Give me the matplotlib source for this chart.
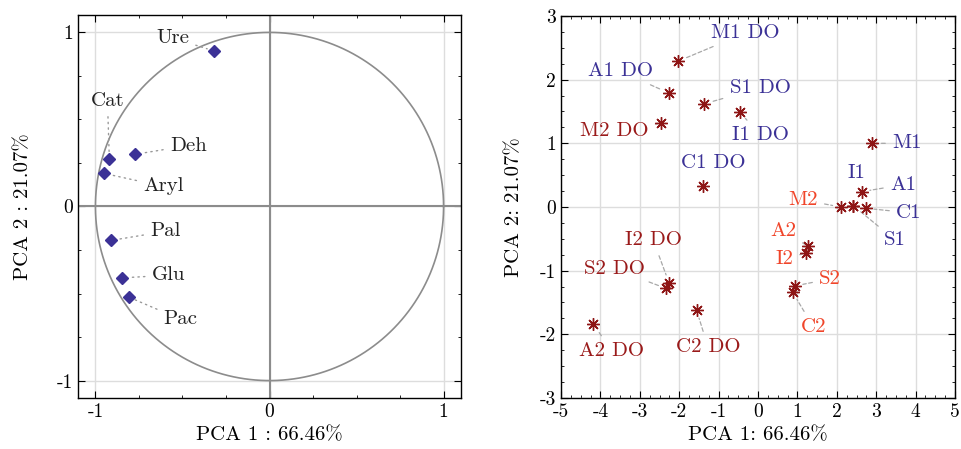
import numpy as np
import matplotlib
matplotlib.use('Agg')
import matplotlib.pyplot as plt
from matplotlib.ticker import MultipleLocator

plt.rcParams['font.family'] = ['cmr10', 'DejaVu Serif']
plt.rcParams['axes.unicode_minus'] = False
plt.rcParams['mathtext.fontset'] = 'cm'

# loadings (left panel)
var_names = ['Ure', 'Cat', 'Deh', 'Aryl', 'Pal', 'Glu', 'Pac']
var_pc1 = [-0.32, -0.92, -0.77, -0.95, -0.91, -0.85, -0.81]
var_pc2 = [0.894, 0.27, 0.30, 0.19, -0.195, -0.41, -0.52]
var_label_x = [-0.557, -0.931, -0.466, -0.609, -0.598, -0.58, -0.511]
var_label_y = [0.968, 0.607, 0.35, 0.115, -0.143, -0.395, -0.648]

# scores (right panel)
obs_names = ['M1 DO', 'A1 DO', 'S1 DO', 'I1 DO', 'M2 DO', 'C1 DO',
             'M1', 'A1', 'I1', 'S1', 'C1',
             'M2', 'A2', 'I2', 'S2', 'C2',
             'I2 DO', 'S2 DO', 'A2 DO', 'C2 DO']
obs_pc1 = [-2.03, -2.26, -1.37, -0.46, -2.46, -1.40,
           2.89, 2.63, 2.42, 2.42, 2.73,
           2.10, 1.28, 1.22, 0.93, 0.88,
           -2.26, -2.33, -4.18, -1.56]
obs_pc2 = [2.29, 1.79, 1.62, 1.49, 1.32, 0.33,
           1.0, 0.24, 0.02, 0.02, -0.02,
           0.0, -0.62, -0.72, -1.24, -1.34,
           -1.19, -1.28, -1.84, -1.62]
obs_group = ['do1', 'do1', 'do1', 'do1', 'do2', 'do1',
             't1', 't1', 't1', 't1', 't1',
             't2', 't2', 't2', 't2', 't2',
             'do2', 'do2', 'do2', 'do2']
obs_label_x = [-0.33, -3.50, 0.05, 0.05, -3.65, -1.14,
               3.78, 3.68, 2.49, 3.48, 3.83,
               1.14, 0.64, 0.66, 1.83, 1.40,
               -2.66, -3.65, -3.71, -1.27]
obs_label_y = [2.73, 2.13, 1.87, 1.13, 1.19, 0.69,
               1.0, 0.35, 0.53, -0.52, -0.09,
               0.11, -0.38, -0.82, -1.13, -1.88,
               -0.52, -0.97, -2.26, -2.20]
connect = [True, True, True, True, True, False,
           True, True, False, True, True,
           True, True, True, True, True,
           True, True, True, True]

blue = '#3b3196'
dark_red = '#9a1a1a'
orange = '#f0452a'
group_color = {'do1': blue, 't1': blue, 'do2': dark_red, 't2': orange}
star_color = '#8e1515'

fig = plt.figure(figsize=(9.61, 4.49), dpi=100)
ax1 = fig.add_axes([0.0812, 0.1136, 0.3985, 0.853])
ax2 = fig.add_axes([0.5838, 0.1136, 0.41, 0.8508])

def style_axes(ax):
    ax.tick_params(which='both', direction='in', top=True, right=True, labelsize=14)
    ax.tick_params(which='major', length=5)
    ax.tick_params(which='minor', length=2.5)
    for s in ax.spines.values():
        s.set_linewidth(1.0)
    ax.grid(True, which='major', color='#dddddd', linewidth=1.0)
    ax.set_axisbelow(True)

# left panel
ax1.set_xlim(-1.1, 1.1)
ax1.set_ylim(-1.1, 1.1)
ax1.set_xticks([-1, 0, 1])
ax1.set_yticks([-1, 0, 1])
ax1.xaxis.set_minor_locator(MultipleLocator(0.25))
ax1.yaxis.set_minor_locator(MultipleLocator(0.25))
style_axes(ax1)
t = np.linspace(0, 2 * np.pi, 400)
ax1.plot(np.cos(t), np.sin(t), color='#8c8c8c', linewidth=1.2, zorder=2)
ax1.axhline(0, color='#8c8c8c', linewidth=1.5, zorder=2)
ax1.axvline(0, color='#8c8c8c', linewidth=1.5, zorder=2)
for name, x, y, lx, ly in zip(var_names, var_pc1, var_pc2, var_label_x, var_label_y):
    ax1.annotate(name, xy=(x, y), xytext=(lx, ly), ha='center', va='center',
                 fontsize=15, color='#222222',
                 arrowprops=dict(arrowstyle='-', linestyle=(0, (1, 3)), color='#999999',
                                 linewidth=1.0, shrinkA=3, shrinkB=5))
ax1.plot(var_pc1, var_pc2, 'D', color=blue, markersize=6, zorder=5)
ax1.set_xlabel('PCA 1 : 66.46%', fontsize=15, labelpad=4)
ax1.set_ylabel('PCA 2 : 21.07%', fontsize=15, labelpad=18)

# right panel
ax2.set_xlim(-5, 5)
ax2.set_ylim(-3, 3)
ax2.xaxis.set_major_locator(MultipleLocator(1))
ax2.yaxis.set_major_locator(MultipleLocator(1))
ax2.xaxis.set_minor_locator(MultipleLocator(0.25))
ax2.yaxis.set_minor_locator(MultipleLocator(0.25))
style_axes(ax2)
for name, x, y, lx, ly, g, c in zip(obs_names, obs_pc1, obs_pc2, obs_label_x,
                                     obs_label_y, obs_group, connect):
    ap = None
    if c:
        ap = dict(arrowstyle='-', linestyle=(0, (3, 2)), color='#a8a8a8',
                  linewidth=0.9, shrinkA=3, shrinkB=6)
    ax2.annotate(name, xy=(x, y), xytext=(lx, ly), ha='center', va='center',
                 fontsize=15, color=group_color[g], arrowprops=ap)
ax2.plot(obs_pc1, obs_pc2, linestyle='none', marker=(8, 2, 0), color=star_color,
         markersize=9, markeredgewidth=1.0, zorder=5)
ax2.set_xlabel('PCA 1: 66.46%', fontsize=15, labelpad=4)
ax2.set_ylabel('PCA 2: 21.07%', fontsize=15, labelpad=12)

fig.savefig('out.png', dpi=100)
